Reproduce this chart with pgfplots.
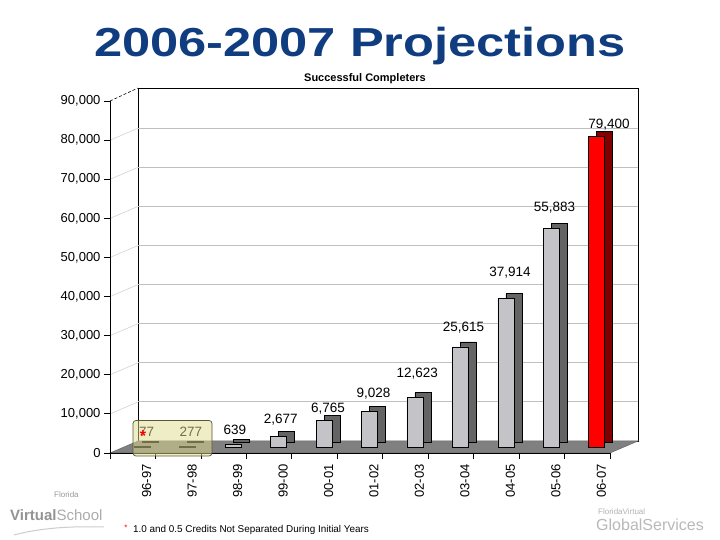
\documentclass[border=0pt]{standalone}
\usepackage{pgfplots}
\pgfplotsset{compat=1.18}
\usepackage{graphicx}
\usepackage{fontspec}
\setmainfont{Liberation Sans}
\definecolor{titleblue}{RGB}{16,60,128}
\definecolor{barfront}{RGB}{196,196,200}
\definecolor{barside}{RGB}{100,100,100}
\definecolor{redfront}{RGB}{255,0,0}
\definecolor{redside}{RGB}{128,0,0}
\definecolor{floorgray}{RGB}{128,128,128}
\definecolor{gridgray}{RGB}{192,192,192}
\definecolor{boxfill}{RGB}{225,220,140}
\definecolor{boxdraw}{RGB}{90,85,50}
\newcommand{\fs}[1]{\fontsize{#1bp}{#1bp}\selectfont}

\pgfplotstableread{
x y
0 77
1 277
2 639
3 2677
4 6765
5 9028
6 12623
7 25615
8 37914
9 55883
}\graydata
\pgfplotstableread{
x y
10 79400
}\reddata
\pgfplotstableread{
x y lab
0.00 3912 77
0.97 3912 277
1.94 4347 639
2.95 7083 2,677
3.99 9895 6,765
4.99 13731 9,028
5.95 18845 12,623
6.97 30505 25,615
7.99 44569 37,914
8.97 61190 55,883
10.17 82335 79,400
}\labdata

\begin{document}
\begin{tikzpicture}[x=1bp,y=1bp]
\fill[white] (0,0) rectangle (720,540);
% back wall
\draw[black, line width=0.7bp, fill=white] (138,99) rectangle (638,452);
\foreach \k in {1,...,8} {
  \draw[gridgray, line width=0.8bp] (138,{99+\k*39.1}) -- (638,{99+\k*39.1});
  \draw[gridgray!70, line width=0.6bp] (110,{87+\k*39.1}) -- (138,{99+\k*39.1});
}
\draw[black, densely dashed, line width=0.6bp] (110,439) -- (138,452);
% floor
\filldraw[fill=floorgray, draw=floorgray!80!black, line width=0.5bp] (110,87) -- (610,87) -- (638,99) -- (138,99) -- cycle;

% bars
\begin{axis}[
  at={(124bp,93bp)}, anchor=south west,
  scale only axis, width=500bp, height=352bp,
  xmin=-0.5, xmax=10.5, ymin=0, ymax=90000,
  axis line style={draw=none},
  ytick=\empty,
  xtick={0,...,10},
  xticklabels={96-97,97-98,98-99,99-00,00-01,01-02,02-03,03-04,04-05,05-06,06-07},
  major tick length=0pt,
  xticklabel shift=14bp,
  xticklabel style={rotate=90, anchor=east, font=\fs{13}},
  clip=false,
]
\addplot[ybar, bar width=16bp, bar shift=3.5bp, yshift=5bp, fill=barside, draw=black, line width=0.6bp] table[x=x,y=y] {\graydata};
\addplot[ybar, bar width=16bp, bar shift=3.5bp, yshift=5bp, fill=redside, draw=black, line width=0.6bp] table[x=x,y=y] {\reddata};
\addplot[ybar, bar width=16bp, bar shift=-4.5bp, fill=barfront, draw=black, line width=0.6bp] table[x=x,y=y] {\graydata};
\addplot[ybar, bar width=16bp, bar shift=-4.5bp, fill=redfront, draw=black, line width=0.6bp] table[x=x,y=y] {\reddata};
\addplot[draw=none, mark=none, nodes near coords, point meta=explicit symbolic,
  every node near coord/.append style={anchor=center, font=\fs{13.5}, text=black}]
  table[x=x, y=y, meta=lab] {\labdata};
\end{axis}

% front axis
\begin{axis}[
  at={(110bp,87bp)}, anchor=south west,
  scale only axis, width=500bp, height=352bp,
  xmin=-0.5, xmax=10.5, ymin=0, ymax=90000,
  axis x line=bottom, axis y line=left,
  axis line style={-, black, line width=0.8bp},
  xtick={-0.5,0.5,...,10.5}, xticklabels={},
  ytick={0,10000,...,90000},
  scaled y ticks=false,
  tick align=outside, major tick length=6bp,
  tick style={black, line width=0.8bp},
  yticklabel style={font=\fs{13}, /pgf/number format/1000 sep={,}, /pgf/number format/assume math mode=true},
]
\addplot[draw=none] coordinates {(0,0)};
\end{axis}

% highlight box
\filldraw[fill=boxfill, fill opacity=0.5, draw=boxdraw, line width=0.7bp, rounded corners=3bp] (133,84) rectangle (212,119.5);
\node[text=red, font=\fs{16}\bfseries] at (143,104) {*};

% titles
\node[anchor=base, text=titleblue] at (360,483) {\scalebox{1.25}[1]{\fs{40.5}\bfseries 2006-2007 Projections}};
\node[anchor=base] at (365,458) {\fs{11}\bfseries Successful Completers};

% footnote
\node[anchor=base, text=red, inner sep=0] at (126,9) {\fs{8}*};
\node[anchor=base west, inner sep=0] at (133,7) {\fs{9.9}1.0 and 0.5 Credits Not Separated During Initial Years};

% logos
\node[anchor=base west, inner sep=0, text=gray!80] at (54,42) {\fs{8}Florida};
\node[anchor=base west, inner sep=0] at (10,19) {\fs{15}\textcolor{gray!85}{\bfseries Virtual}\textcolor{gray!65}{School}};
\draw[gray!40, line width=1bp] (14,5) .. controls (40,12) and (70,14) .. (104,13);
\node[anchor=base west, inner sep=0, text=gray!60] at (598,25) {\fs{8}FloridaVirtual};
\node[anchor=base west, inner sep=0, text=gray!55] at (596,9) {\fs{16}GlobalServices};
\end{tikzpicture}
\end{document}
